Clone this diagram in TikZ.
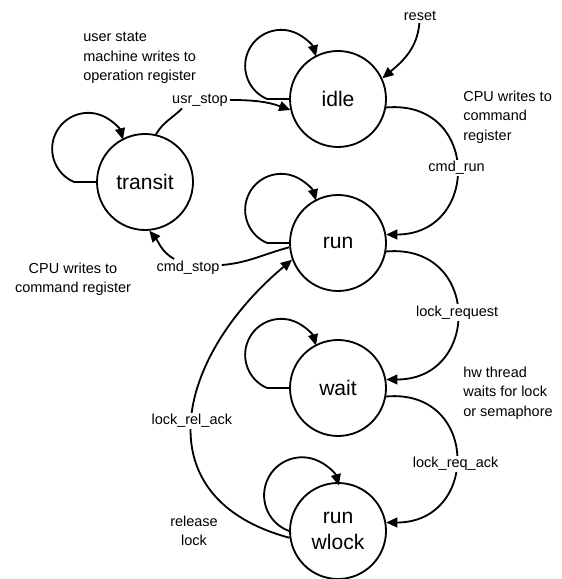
\documentclass[tikz,border=0pt]{standalone}
\usepackage{fontspec}
\setmainfont{Liberation Sans}
\usetikzlibrary{arrows.meta}

\begin{document}
\begin{tikzpicture}[line width=1.3pt,>={Triangle[length=8pt,width=7pt]},
  state/.style={circle,draw,minimum size=2.4cm,inner sep=0pt,align=center,
    font=\fontsize{15}{18.4}\selectfont},
  txt/.style={font=\fontsize{10.3}{13.8}\selectfont,inner sep=1pt},
  lbl/.style={txt,fill=white}]
\useasboundingbox (0,0) rectangle (14.025,14.475);
% states
\node[state] (idle) at (8.45,12) {idle};
\node[state] (transit) at (3.625,9.925) {transit};
\node[state] (run) at (8.45,8.4) {run};
\node[state] (wait) at (8.45,4.775) {wait};
\node[state] (wlock) at (8.45,1.2) {run\\wlock};
% notes
\node[txt,align=left,anchor=west] (usrnote) at (2.025,13.025) {user state\\machine writes to\\operation register};
\node[txt,align=left,anchor=west] (runnote) at (11.525,11.55) {CPU writes to\\command\\register};
\node[txt,align=center] (stopnote) at (1.825,7.5) {CPU writes to\\command register};
\node[txt,align=left,anchor=west] (waitnote) at (11.525,4.65) {hw thread\\waits for lock\\or semaphore};
\node[txt,align=center] (relnote) at (4.85,1.2) {release\\lock};
% self loops
\foreach \s in {idle,transit,run,wait}
  \draw[->] (\s.180) -- ++(-0.55,0) arc[start angle=247,end angle=15,radius=0.9];
\draw[->] (wlock.180) arc[start angle=250,end angle=15,radius=0.95];
% transitions
\node[txt] (reset) at (10.5,14.075) {reset};
\draw[->] (reset) to[out=-95,in=40] (idle.25);
\draw[->] (idle.-10) to[out=5,in=0,looseness=1.9] node[lbl] {cmd\_run} (run.10);
\draw[->] (run.-10) to[out=5,in=0,looseness=1.9] node[lbl] {lock\_request} (wait.10);
\draw[->] (wait.-10) to[out=5,in=0,looseness=1.9] node[lbl,pos=0.54] {lock\_req\_ack} (wlock.10);
\draw[->] (wlock.188) to[out=165,in=220,looseness=1.4] node[lbl] {lock\_rel\_ack} (run.200);
\node[txt] (usrstop) at (5.0,11.975) {usr\_stop};
\draw (transit.77) to[out=60,in=225] ([xshift=-0.45cm]usrstop.south);
\draw[->] (usrstop) to[out=0,in=160] (idle.193);
\node[txt] (cmdstop) at (4.7,7.775) {cmd\_stop};
\draw (run.185) to[out=195,in=5] (cmdstop);
\draw[->] ([xshift=-0.35cm]cmdstop.north) to[out=150,in=-50] (transit.-85);
\end{tikzpicture}
\end{document}
